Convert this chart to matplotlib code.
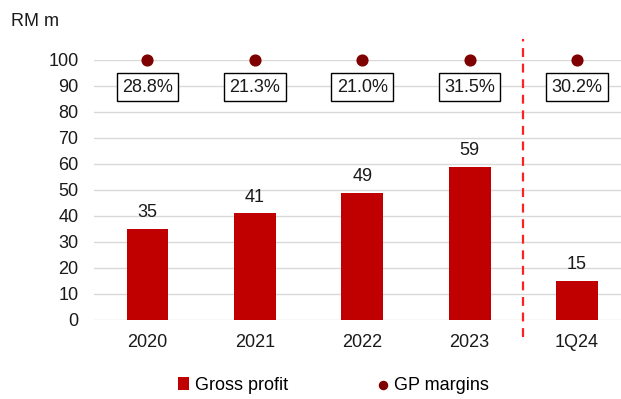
import matplotlib.pyplot as plt
import numpy as np

plt.rcParams['font.family'] = ['Liberation Sans', 'DejaVu Sans']

periods = ['2020', '2021', '2022', '2023', '1Q24']
gross_profit = [35, 41, 49, 59, 15]
gp_margin = ['28.8%', '21.3%', '21.0%', '31.5%', '30.2%']
margin_marker_y = [100, 100, 100, 100, 100]
margin_box_y = 89.5

fs = 13

fig = plt.figure(figsize=(6.21, 3.99), dpi=100)
ax = fig.add_axes([0.151, 0.198, 0.849, 0.652])

x = np.arange(len(periods))
bars = ax.bar(x, gross_profit, width=0.39, color='#C00000', zorder=3, label='Gross profit')
dots = ax.scatter(x, margin_marker_y, s=60, color='#7F0000', zorder=4, clip_on=False,
                  label='GP margins')

for xi, v in zip(x, gross_profit):
    ax.text(xi, v + 3, str(v), ha='center', va='bottom', fontsize=fs, color='#1a1a1a')

for xi, m in zip(x, gp_margin):
    ax.text(xi, margin_box_y, m, ha='center', va='center', fontsize=fs, color='#1a1a1a',
            zorder=5,
            bbox=dict(boxstyle='square,pad=0.3', fc='white', ec='black', lw=1.0))

# separator between annual and quarterly figures
ax.plot([3.5, 3.5], [-6.5, 108], ls=(0, (4, 3)), color='#FF2020', lw=1.6,
        clip_on=False, zorder=2)

ax.set_xlim(-0.5, 4.41)
ax.set_ylim(0, 100)
ax.set_yticks(range(0, 101, 10))
ax.set_xticks(x)
ax.set_xticklabels(periods)
ax.tick_params(axis='both', length=0, labelsize=fs, colors='#1a1a1a')
ax.tick_params(axis='x', pad=10)
ax.tick_params(axis='y', pad=11)
ax.grid(axis='y', color='#D9D9D9', lw=1.0, zorder=0)
for s in ax.spines.values():
    s.set_visible(False)

fig.text(0.018, 0.945, 'RM m', fontsize=fs, color='#1a1a1a', va='center')

ax.legend(handles=[bars, dots], loc='center', bbox_to_anchor=(0.455, -0.25), ncol=2,
          frameon=False, fontsize=fs, handlelength=0.6, handletextpad=0.3,
          columnspacing=5, markerscale=0.75)

fig.savefig('out.png', dpi=100)
